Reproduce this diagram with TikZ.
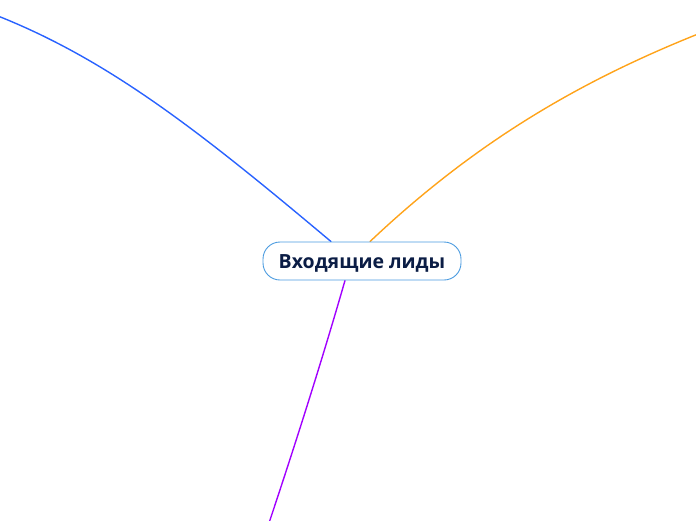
\documentclass[tikz,border=0pt]{standalone}
\usepackage{fontspec}
\setmainfont{Open Sans}
\usetikzlibrary{backgrounds}
\definecolor{nodeborder}{HTML}{4A9BE0}
\definecolor{nodetext}{HTML}{0B1D45}
\definecolor{lblue}{HTML}{2962FF}
\definecolor{lorange}{HTML}{FFA31A}
\definecolor{lpurple}{HTML}{A100FF}
\tikzset{
  topic/.style={draw=nodeborder, line width=0.9pt, fill=white, rounded corners=17pt,
    minimum width=198pt, minimum height=38pt, inner sep=0pt,
    font=\fontsize{19.5}{23}\selectfont\bfseries, text=nodetext},
  branch/.style={line width=1.4pt, line cap=round}
}
\begin{document}
\begin{tikzpicture}[x=1pt,y=-1pt]
\useasboundingbox (0,0) rectangle (696,520);
\node[topic] (c) at (362,261) {\raisebox{-2pt}[\height][\depth]{Входящие лиды}};
\coordinate (bl) at (-2,16);
\coordinate (or) at (698,34);
\coordinate (pu) at (269,523);
\begin{scope}[on background layer]
\draw[branch, lblue] ([xshift=-31pt]c.north) .. controls (200,131.5) and (110,60.7) .. (bl);
\draw[branch, lorange] ([xshift=8pt]c.north) .. controls (480,137.5) and (586,79) .. (or);
\draw[branch, lpurple] ([xshift=-17pt]c.south) .. controls (325,350) and (300,430) .. (pu);
\end{scope}
\end{tikzpicture}
\end{document}
